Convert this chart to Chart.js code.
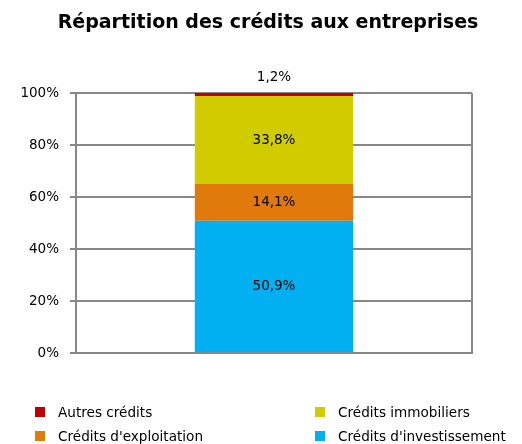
<!DOCTYPE html>
<html>
<head>
<meta charset="utf-8">
<script src="https://cdn.jsdelivr.net/npm/chart.js@4/dist/chart.umd.min.js"></script>
<style>
  html, body { margin: 0; padding: 0; background: #fff; }
  #wrap { position: relative; width: 522px; height: 444px; }
  #title { position: absolute; left: 7px; top: 10px; width: 522px; text-align: center;
    font-family: "DejaVu Sans", sans-serif; font-weight: bold; font-size: 19px; color: #000; }
  .leg { position: absolute; font-family: "DejaVu Sans", sans-serif; font-size: 13.6px; color: #000; white-space: nowrap; }
  .leg span.box { position: absolute; left: 0; top: 4px; width: 10px; height: 10px; }
  .leg span.txt { position: absolute; left: 23px; top: 0; line-height: 18px; }
</style>
</head>
<body>
<div id="wrap">
  <canvas id="c" width="522" height="444"></canvas>
  <div id="title">Répartition des crédits aux entreprises</div>
  <div id="legend"></div>
</div>
<script>
const categories = ['Crédits aux entreprises'];
const seriesNames = ["Crédits d'investissement", "Crédits d'exploitation", 'Crédits immobiliers', 'Autres crédits'];
const investissement = [50.9];
const exploitation = [14.1];
const immobiliers = [33.8];
const autres = [1.2];
const seriesColors = ['#00B0F0', '#E07A0B', '#D0CC00', '#C00000'];
const yTicks = [0, 20, 40, 60, 80, 100];

const seriesValues = [investissement, exploitation, immobiliers, autres];

const fmt = v => v.toFixed(1).replace('.', ',') + '%';

const labelPlugin = {
  id: 'barLabels',
  afterDatasetsDraw(chart) {
    const ctx = chart.ctx;
    ctx.save();
    ctx.font = '13.5px "DejaVu Sans", sans-serif';
    ctx.fillStyle = '#000';
    ctx.textAlign = 'center';
    ctx.textBaseline = 'middle';
    const last = chart.data.datasets.length - 1;
    chart.data.datasets.forEach((ds, i) => {
      const meta = chart.getDatasetMeta(i);
      meta.data.forEach((el, j) => {
        const p = el.getProps(['x', 'y', 'base'], true);
        const v = ds.data[j];
        if (i === last) {
          ctx.fillText(fmt(v), p.x, p.y - 16);
        } else {
          ctx.fillText(fmt(v), p.x, (p.y + p.base) / 2);
        }
      });
    });
    ctx.restore();
  }
};

const chart = new Chart(document.getElementById('c'), {
  type: 'bar',
  data: {
    labels: categories,
    datasets: seriesNames.map((n, i) => ({
      label: n,
      data: seriesValues[i],
      backgroundColor: seriesColors[i],
      borderWidth: 0,
      barPercentage: 0.4,
      categoryPercentage: 1
    }))
  },
  options: {
    responsive: false,
    animation: false,
    layout: { padding: { top: 93, right: 50, bottom: 91, left: 0 } },
    plugins: { legend: { display: false }, title: { display: false }, tooltip: { enabled: false } },
    scales: {
      x: {
        stacked: true,
        ticks: { display: false },
        grid: { display: true, offset: true, color: '#888', lineWidth: 2, drawTicks: false },
        border: { display: true, color: '#888', width: 2 },
        afterFit(s) { s.height = 0; }
      },
      y: {
        stacked: true,
        min: 0, max: 100,
        afterBuildTicks(s) { s.ticks = yTicks.map(v => ({ value: v })); },
        ticks: {
          callback: v => v + '%',
          color: '#000',
          padding: 11,
          font: { family: '"DejaVu Sans", sans-serif', size: 13.5 }
        },
        grid: { color: '#888', lineWidth: 2, tickLength: 6 },
        border: { display: true, color: '#888', width: 2 },
        afterFit(s) { s.width = 76; }
      }
    }
  },
  plugins: [labelPlugin]
});

// Legend (reverse order of stacking, 2 columns)
const legend = document.getElementById('legend');
const order = seriesNames.map((n, i) => i).reverse();
const pos = [[35, 403], [315, 403], [35, 427], [315, 427]];
order.forEach((idx, k) => {
  const d = document.createElement('div');
  d.className = 'leg';
  d.style.left = pos[k][0] + 'px';
  d.style.top = pos[k][1] + 'px';
  d.innerHTML = '<span class="box" style="background:' + seriesColors[idx] + '"></span><span class="txt"></span>';
  d.querySelector('.txt').textContent = seriesNames[idx];
  legend.appendChild(d);
});
</script>
</body>
</html>
